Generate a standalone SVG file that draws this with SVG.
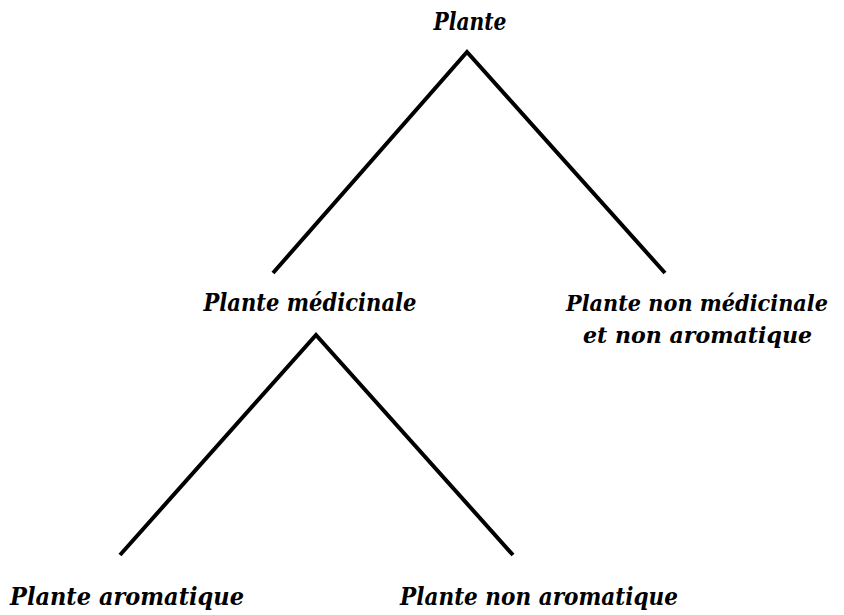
<svg xmlns="http://www.w3.org/2000/svg" width="844" height="615" viewBox="0 0 844 615">
<style>
text{font-family:"DejaVu Serif","Liberation Serif",serif;font-weight:bold;font-style:italic;font-size:24px;fill:#000;text-anchor:middle}
.r{font-size:21.5px;text-anchor:start}
.c polyline{fill:none;stroke:#000;stroke-width:4;stroke-linejoin:miter}
</style>
<rect width="844" height="615" fill="#fff"/>
<g class="c" id="connectors">
<polyline points="273,273 467,52 665,273"/>
<polyline points="120,555 316,335 513,555"/>
</g>
<g id="n-plante"><text x="470" y="30" textLength="73" lengthAdjust="spacingAndGlyphs">Plante</text></g>
<g id="n-medicinale"><text x="310" y="311" textLength="213" lengthAdjust="spacingAndGlyphs">Plante médicinale</text></g>
<g id="n-non-medicinale"><text class="r" x="566" y="311" textLength="262" lengthAdjust="spacingAndGlyphs">Plante non médicinale</text><text class="r" x="583" y="343" textLength="229" lengthAdjust="spacingAndGlyphs">et non aromatique</text></g>
<g id="n-aromatique"><text x="127" y="605" textLength="234" lengthAdjust="spacingAndGlyphs">Plante aromatique</text></g>
<g id="n-non-aromatique"><text x="539" y="605" textLength="278" lengthAdjust="spacingAndGlyphs">Plante non aromatique</text></g>
</svg>
